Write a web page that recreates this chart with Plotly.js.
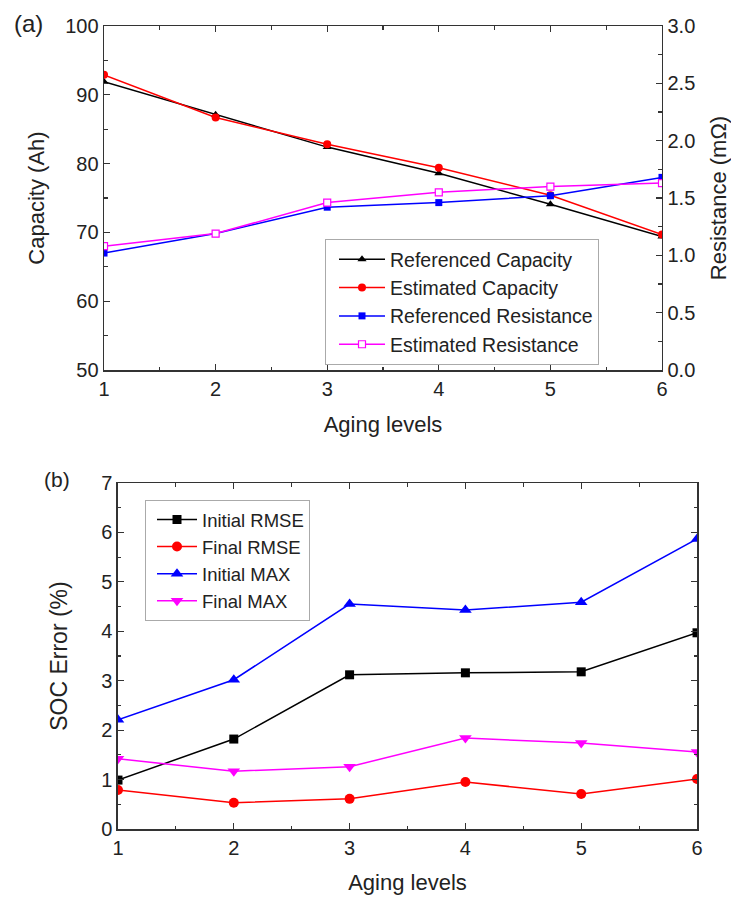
<!DOCTYPE html>
<html>
<head>
<meta charset="utf-8">
<script src="https://cdn.plot.ly/plotly-3.0.1.min.js"></script>
<style>html,body{margin:0;padding:0;background:#fff;}#chart{width:731px;height:897px;}</style>
</head>
<body>
<div id="chart"></div>
<script>
const agingLevels = [1, 2, 3, 4, 5, 6];
// Panel (a)
const refCapacity = [91.9, 87.1, 82.4, 78.6, 74.1, 69.4];
const estCapacity = [92.9, 86.7, 82.8, 79.4, 75.4, 69.7];
const refResistance = [1.02, 1.19, 1.42, 1.46, 1.52, 1.68];
const estResistance = [1.08, 1.19, 1.46, 1.55, 1.60, 1.63];
// Panel (b)
const initialRMSE = [0.99, 1.82, 3.12, 3.16, 3.18, 3.97];
const finalRMSE = [0.79, 0.53, 0.61, 0.95, 0.71, 1.01];
const initialMAX = [2.21, 3.02, 4.55, 4.43, 4.59, 5.87];
const finalMAX = [1.42, 1.17, 1.26, 1.84, 1.74, 1.56];

const FONT = 'Liberation Sans, Arial, sans-serif';
const AX = '#333';
const TXT = '#222';

function tr(x, y, name, color, symbol, size, xa, ya, legend, open) {
  return {
    x: x, y: y, name: name, type: 'scatter', mode: 'lines+markers',
    xaxis: xa, yaxis: ya, legend: legend,
    line: {color: color, width: 1.5},
    marker: {symbol: symbol, size: size, color: open ? '#fff' : color,
             line: {color: color, width: open ? 1.2 : 0}}
  };
}

const data = [
  tr(agingLevels, refCapacity, 'Referenced Capacity', '#000', 'triangle-up', 8, 'x', 'y', 'legend', false),
  tr(agingLevels, estCapacity, 'Estimated Capacity', '#ff0000', 'circle', 8, 'x', 'y', 'legend', false),
  tr(agingLevels, refResistance, 'Referenced Resistance', '#0000ff', 'square', 7, 'x', 'y2', 'legend', false),
  tr(agingLevels, estResistance, 'Estimated Resistance', '#ff00ff', 'square', 7, 'x', 'y2', 'legend', true),
  tr(agingLevels, initialRMSE, 'Initial RMSE', '#000', 'square', 9, 'x2', 'y3', 'legend2', false),
  tr(agingLevels, finalRMSE, 'Final RMSE', '#ff0000', 'circle', 10, 'x2', 'y3', 'legend2', false),
  tr(agingLevels, initialMAX, 'Initial MAX', '#0000ff', 'triangle-up', 11, 'x2', 'y3', 'legend2', false),
  tr(agingLevels, finalMAX, 'Final MAX', '#ff00ff', 'triangle-down', 11, 'x2', 'y3', 'legend2', false)
];

function minorTicks(dtick, tick0) {
  return {ticks: 'inside', ticklen: 3.5, tickwidth: 1.2, tickcolor: AX, dtick: dtick, tick0: tick0};
}

function axisBase(extra) {
  return Object.assign({
    showgrid: false, zeroline: false, showline: true, linecolor: AX, linewidth: 1.5,
    ticks: 'inside', ticklen: 6, tickwidth: 1.2, tickcolor: AX,
    tickfont: {family: FONT, size: 20, color: TXT},
    automargin: false
  }, extra);
}

function ttl(text, size, standoff) {
  return {text: text, font: {family: FONT, size: size, color: TXT}, standoff: standoff};
}

const layout = {
  width: 731, height: 897,
  margin: {l: 0, r: 0, t: 0, b: 0},
  paper_bgcolor: '#fff', plot_bgcolor: '#fff',
  font: {family: FONT, color: TXT},
  showlegend: true,
  xaxis: axisBase({
    domain: [0.1423, 0.9056], range: [1, 6], anchor: 'y', mirror: 'ticks',
    tickvals: agingLevels, minor: minorTicks(0.5, 1),
    title: ttl('Aging levels', 22, 18)
  }),
  yaxis: axisBase({
    domain: [0.5875, 0.971], range: [50, 100], anchor: 'x', dtick: 10,
    minor: minorTicks(5, 50),
    title: ttl('Capacity (Ah)', 22, 14)
  }),
  yaxis2: axisBase({
    domain: [0.5875, 0.971], range: [0, 3], anchor: 'x', overlaying: 'y', side: 'right', dtick: 0.5,
    tickformat: '.1f', minor: minorTicks(0.25, 0),
    title: ttl('Resistance (mΩ)', 22, 16)
  }),
  xaxis2: axisBase({
    domain: [0.1614, 0.9535], range: [1, 6], anchor: 'y3', mirror: 'ticks',
    tickvals: agingLevels, minor: minorTicks(0.5, 1),
    title: ttl('Aging levels', 22, 17)
  }),
  yaxis3: axisBase({
    domain: [0.0758, 0.4615], range: [0, 7], anchor: 'x2', mirror: 'ticks', dtick: 1,
    minor: minorTicks(0.5, 0),
    title: ttl('SOC Error (%)', 23, 27)
  }),
  legend: {
    x: 325 / 731, y: 1 - 239 / 897, xanchor: 'left', yanchor: 'top',
    bgcolor: '#fff', bordercolor: '#aaa', borderwidth: 1,
    font: {family: FONT, size: 19.5, color: TXT}, tracegroupgap: 0,
    itemwidth: 46, indentation: 8
  },
  legend2: {
    x: 145 / 731, y: 1 - 500 / 897, xanchor: 'left', yanchor: 'top',
    bgcolor: '#fff', bordercolor: '#aaa', borderwidth: 1,
    font: {family: FONT, size: 18.5, color: TXT}, tracegroupgap: 0,
    itemwidth: 40, indentation: 6
  },
  annotations: [
    {text: '(a)', x: 12 / 731, y: 1 - 24 / 897, xref: 'paper', yref: 'paper', xanchor: 'left', yanchor: 'middle', showarrow: false, font: {family: FONT, size: 24, color: TXT}},
    {text: '(b)', x: 42 / 731, y: 1 - 479 / 897, xref: 'paper', yref: 'paper', xanchor: 'left', yanchor: 'middle', showarrow: false, font: {family: FONT, size: 21, color: TXT}}
  ]
};

Plotly.newPlot('chart', data, layout, {displayModeBar: false, staticPlot: true});
</script>
</body>
</html>
